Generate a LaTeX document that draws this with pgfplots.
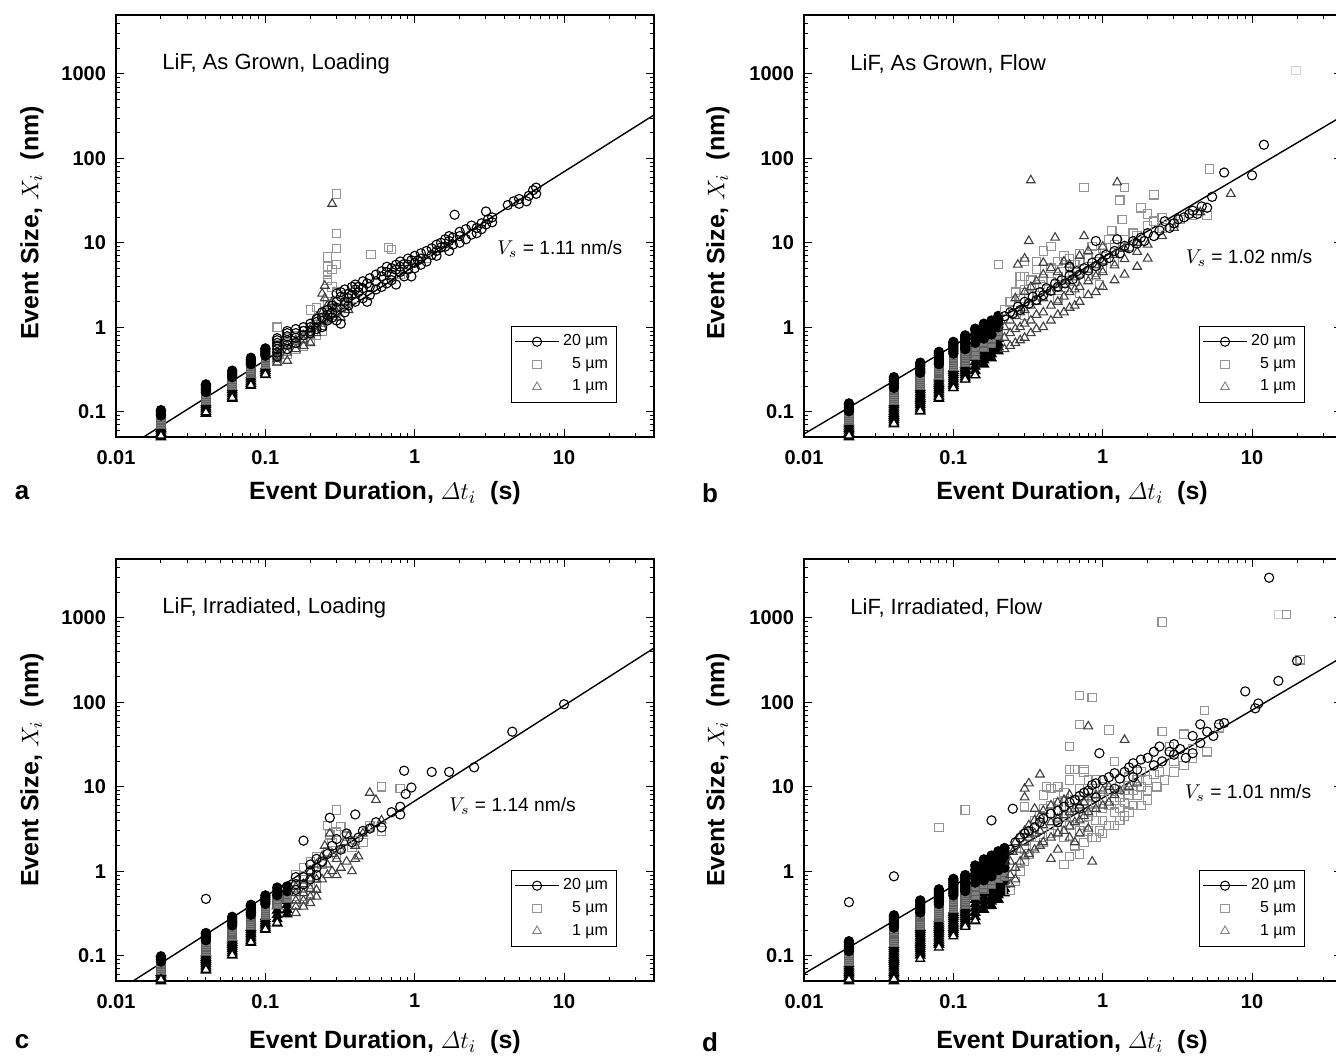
\documentclass[border=0pt]{standalone}
\usepackage{amsmath}
\usepackage[no-math]{fontspec}
\setmainfont{Liberation Sans}
\usepackage{pgfplots}
\pgfplotsset{compat=1.18}
\definecolor{sqgray}{gray}{0.58}
\definecolor{sqfill}{gray}{0.5}
\definecolor{sqdraw}{gray}{0.38}
\definecolor{trigray}{gray}{0.25}
\definecolor{faint}{gray}{0.82}
\pgfplotsset{
 myCirc/.style={only marks, mark=o, black, mark size=2.3pt, line width=0.55pt},
 mySq/.style={only marks, mark=square, sqgray, mark size=2.1pt, line width=0.55pt},
 myTri/.style={only marks, mark=triangle, trigray, mark size=2.5pt, line width=0.55pt},
 colCirc/.style={only marks, mark=*, black, mark size=2.3pt, line width=0.6pt, mark options={draw=black, fill=black}},
 colSq/.style={only marks, mark=square*, sqdraw, mark size=2.1pt, line width=0.6pt, mark options={draw=sqdraw, fill=sqfill}},
 colTri/.style={only marks, mark=triangle*, black, mark size=2.6pt, line width=0.7pt, mark options={draw=black, fill=black}},
 whTri/.style={only marks, mark=triangle*, black, mark size=2.5pt, line width=0.6pt, mark options={draw=black, fill=white}},
 myFit/.style={black, line width=0.7pt, no marks},
 legend image code/.code={\draw[mark repeat=2,mark phase=2,#1] plot coordinates {(0cm,0cm) (0.38cm,0cm) (0.76cm,0cm)};},
 every axis/.append style={
  scale only axis, width=269pt, height=211pt,
  xmode=log, ymode=log, xmin=0.01, xmax=40, ymin=0.05, ymax=5000,
  xtick={0.01,0.1,1,10}, xticklabels={0.01,0.1,1,10},
  ytick={0.1,1,10,100,1000}, yticklabels={0.1,1,10,100,1000},
  minor xtick={0.02,0.03,0.04,0.05,0.06,0.07,0.08,0.09,0.2,0.3,0.4,0.5,0.6,0.7,0.8,0.9,2,3,4,5,6,7,8,9,20,30,40},
  minor ytick={0.06,0.07,0.08,0.09,0.2,0.3,0.4,0.5,0.6,0.7,0.8,0.9,2,3,4,5,6,7,8,9,20,30,40,50,60,70,80,90,200,300,400,500,600,700,800,900,2000,3000,4000,5000},
  tick align=inside, major tick length=4pt, minor tick length=2pt,
  tick style={black, line width=0.5pt},
  axis line style={line width=0.7pt},
  ticklabel style={font=\bfseries\fontsize{10}{12}\selectfont},
  xticklabel style={yshift=-3pt}, yticklabel style={xshift=-1.5pt},
  legend style={at={(0.93,0.082)}, anchor=south east, draw=black, font=\fontsize{8}{9}\selectfont, inner xsep=2pt, inner ysep=2pt, row sep=0.3pt},
  legend cell align=right,
 }
}
\newcommand{\legendentries}{%
 \addlegendimage{black, mark=o, mark size=2.3pt, line width=0.5pt}
 \addlegendentry{20 µm}
 \addlegendimage{only marks, mark=square, sqgray, mark size=2.1pt, line width=0.45pt}
 \addlegendentry{5 µm}
 \addlegendimage{only marks, mark=triangle, gray, mark size=2.5pt, line width=0.45pt}
 \addlegendentry{1 µm}}
\newcommand{\titlefont}{\fontsize{11}{13}\selectfont}
\newcommand{\vsfont}{\fontsize{9.6}{11}\selectfont}
\newcommand{\labfont}{\bfseries\fontsize{12.5}{14}\selectfont}
\begin{document}
\begin{tikzpicture}[x=1pt,y=1pt]
\useasboundingbox (0,0) rectangle (668,530);
% ================= panel a =================
\begin{axis}[at={(58pt,311.5pt)}, anchor=south west]
\addplot[colTri, forget plot] coordinates {
(0.02,0.050)(0.02,0.053)(0.02,0.056)(0.02,0.060)(0.02,0.063)(0.02,0.067)
(0.04,0.095)(0.04,0.101)(0.04,0.107)(0.04,0.113)(0.04,0.120)(0.04,0.127)
(0.06,0.143)(0.06,0.152)(0.06,0.161)(0.06,0.170)(0.06,0.181)(0.06,0.191)
(0.08,0.203)(0.08,0.215)(0.08,0.228)(0.08,0.242)(0.08,0.256)(0.08,0.272)
(0.1,0.272)(0.1,0.288)(0.1,0.305)(0.1,0.324)(0.1,0.343)
};
\addplot[colSq, forget plot] coordinates {
(0.02,0.071)(0.02,0.075)(0.02,0.080)(0.02,0.085)
(0.04,0.135)(0.04,0.143)(0.04,0.152)(0.04,0.161)
(0.06,0.203)(0.06,0.215)(0.06,0.228)(0.06,0.242)
(0.08,0.288)(0.08,0.305)(0.08,0.324)(0.08,0.343)
(0.1,0.364)(0.1,0.386)(0.1,0.409)(0.1,0.434)
};
\addplot[colCirc, forget plot] coordinates {
(0.02,0.090)(0.02,0.095)(0.02,0.101)(0.02,0.104)
(0.04,0.170)(0.04,0.181)(0.04,0.191)(0.04,0.203)(0.04,0.21)
(0.06,0.256)(0.06,0.272)(0.06,0.288)(0.06,0.305)
(0.08,0.364)(0.08,0.386)(0.08,0.409)(0.08,0.434)
(0.1,0.460)(0.1,0.487)(0.1,0.517)(0.1,0.548)(0.1,0.56)
};
\addplot[whTri, forget plot] coordinates {(0.02,0.052)(0.04,0.098)(0.06,0.146)(0.08,0.206)(0.1,0.276)};
\addplot[mySq, forget plot] coordinates {
(0.12,0.4)(0.12,0.45)(0.12,0.5)(0.12,0.55)(0.12,0.62)(0.12,1.0)
(0.14,0.48)(0.14,0.55)(0.14,0.65)(0.14,0.75)
(0.16,0.55)(0.16,0.65)(0.16,0.8)
(0.18,0.6)(0.18,0.75)(0.18,0.9)
(0.2,0.7)(0.2,0.85)(0.2,1.6)
(0.22,0.8)(0.22,1.0)(0.22,1.7)
(0.24,0.9)(0.24,1.2)
(0.26,6.8)(0.26,5.2)(0.26,4.2)(0.26,3.6)(0.26,2.0)
(0.28,1.4)(0.28,4.8)(0.28,3.0)
(0.3,38)(0.3,12.8)(0.3,8.5)(0.3,5.5)(0.3,2.6)
(0.35,1.8)(0.35,2.4)(0.4,2.2)(0.4,3.0)(0.51,7.3)(0.67,8.8)(0.7,8.3)(0.8,4.2)(1.2,6.5)
};
\addplot[myTri, forget plot] coordinates {
(0.12,0.38)(0.12,0.42)(0.12,0.45)(0.12,0.5)
(0.14,0.4)(0.14,0.5)(0.14,0.6)
(0.16,0.55)(0.16,0.62)(0.16,0.7)
(0.18,0.6)(0.18,0.7)(0.18,0.8)
(0.2,0.65)(0.2,0.8)(0.2,0.95)
(0.22,1.3)(0.22,0.85)(0.22,1.0)
(0.24,1.0)(0.24,1.5)(0.24,2.5)
(0.25,3.1)(0.25,2.2)(0.26,1.8)(0.26,1.2)
(0.28,29)(0.28,1.4)(0.28,2.0)
(0.3,1.5)(0.3,1.7)(0.34,2.0)(0.4,2.4)(0.32,1.3)(0.36,1.6)
};
\addplot[myCirc, forget plot] coordinates {
(0.12,0.45)(0.12,0.5)(0.12,0.55)(0.12,0.6)(0.12,0.65)(0.12,0.7)(0.12,0.74)
(0.14,0.55)(0.14,0.62)(0.14,0.7)(0.14,0.78)(0.14,0.85)(0.14,0.9)
(0.16,0.65)(0.16,0.75)(0.16,0.85)(0.16,0.95)
(0.18,0.8)(0.18,0.9)(0.18,1.0)
(0.2,0.9)(0.2,1.0)(0.2,1.1)(0.2,0.85)
(0.22,0.95)(0.22,1.15)(0.22,1.25)
(0.24,1.0)(0.24,1.3)(0.24,1.5)
(0.26,1.2)(0.26,1.6)(0.26,1.4)
(0.28,1.5)(0.28,1.8)(0.28,1.3)
(0.3,1.2)(0.3,1.7)(0.3,2.5)(0.3,2.0)
(0.32,1.1)(0.32,2.3)(0.32,2.6)
(0.34,1.5)(0.34,2.0)(0.34,2.8)
(0.36,1.8)(0.36,2.5)(0.36,2.2)
(0.38,2.4)(0.38,3.0)
(0.4,2.0)(0.4,2.8)(0.4,3.2)
(0.42,2.6)(0.42,3.0)
(0.45,2.2)(0.45,3.5)(0.45,2.9)
(0.48,2.0)(0.48,3.3)
(0.5,2.4)(0.5,3.8)(0.5,3.0)
(0.55,2.8)(0.55,3.5)(0.55,4.2)
(0.6,3.0)(0.6,4.0)(0.6,4.6)
(0.65,3.3)(0.65,4.5)(0.65,5.2)
(0.7,3.6)(0.7,5.0)(0.7,4.2)
(0.75,3.2)(0.75,5.5)(0.75,4.8)
(0.8,4.5)(0.8,6.0)(0.8,5.2)
(0.85,4.0)(0.85,5.6)
(0.9,5.5)(0.9,6.5)(0.9,4.8)
(0.95,4.0)(0.95,6.2)
(1.0,5.0)(1.0,7.0)(1.0,5.8)
(1.05,6.2)
(1.1,6.5)(1.1,7.5)(1.1,5.5)
(1.2,6.0)(1.2,8.0)
(1.3,7.2)(1.3,8.6)
(1.4,8.0)(1.4,9.5)(1.4,7.0)
(1.5,8.8)(1.5,10.0)
(1.6,9.0)(1.6,11.0)
(1.7,8.0)(1.7,10.5)(1.7,12.0)
(1.8,11.5)(1.8,9.5)(1.85,21.5)
(2.0,12.0)(2.0,10.0)(2.0,13.5)
(2.2,11.0)(2.2,14.5)
(2.4,12.5)(2.4,16.0)
(2.6,15.0)(2.6,13.0)
(2.8,17.0)(2.8,14.5)
(3.0,23.5)(3.0,16.5)(3.1,19.0)
(3.3,17.5)(3.3,20.0)
(4.2,28.0)(4.6,31.0)(5.0,33.0)(5.0,29.0)(5.6,31.0)(5.8,36.0)(6.2,42.0)(6.5,45.0)(6.5,38.0)
};
\addplot[myFit, forget plot] coordinates {(0.0153,0.05) (40,327)};
\legendentries
\node[anchor=west, inner sep=0pt, font=\titlefont] at (rel axis cs:0.0855,0.884) {LiF, As Grown, Loading};
\node[anchor=west, inner sep=0pt, font=\vsfont] at (rel axis cs:0.708,0.445) {$V_s$ = 1.11 nm/s};
\end{axis}
% ================= panel b =================
\begin{axis}[at={(402pt,311.5pt)}, anchor=south west]
\addplot[only marks, mark=square, faint, mark size=2.1pt, line width=0.45pt, forget plot] coordinates {(19.7,1100)};
\addplot[colTri, forget plot] coordinates {
(0.02,0.050)(0.02,0.053)(0.02,0.056)(0.02,0.060)(0.02,0.063)(0.02,0.067)(0.02,0.071)(0.02,0.075)
(0.04,0.071)(0.04,0.075)(0.04,0.080)(0.04,0.085)(0.04,0.090)(0.04,0.095)(0.04,0.101)(0.04,0.107)(0.04,0.113)(0.04,0.120)(0.04,0.127)
(0.06,0.101)(0.06,0.107)(0.06,0.113)(0.06,0.120)(0.06,0.127)(0.06,0.135)(0.06,0.143)(0.06,0.152)(0.06,0.161)(0.06,0.170)(0.06,0.181)(0.06,0.191)
(0.08,0.143)(0.08,0.152)(0.08,0.161)(0.08,0.170)(0.08,0.181)(0.08,0.191)(0.08,0.203)(0.08,0.215)(0.08,0.228)(0.08,0.242)(0.08,0.256)
(0.1,0.191)(0.1,0.203)(0.1,0.215)(0.1,0.228)(0.1,0.242)(0.1,0.256)(0.1,0.272)(0.1,0.288)(0.1,0.305)(0.1,0.324)
(0.12,0.242)(0.12,0.256)(0.12,0.272)(0.12,0.288)(0.12,0.305)(0.12,0.324)(0.12,0.343)(0.12,0.364)
(0.14,0.272)(0.14,0.305)(0.14,0.343)(0.14,0.386)(0.14,0.434)
(0.16,0.364)(0.16,0.409)(0.16,0.46)(0.16,0.517)
(0.18,0.43)(0.18,0.48)(0.18,0.54)(0.18,0.6)
(0.2,0.52)(0.2,0.58)(0.2,0.65)(0.2,0.73)
};
\addplot[colSq, forget plot] coordinates {
(0.02,0.080)(0.02,0.085)(0.02,0.090)(0.02,0.095)
(0.04,0.135)(0.04,0.143)(0.04,0.152)(0.04,0.161)(0.04,0.170)(0.04,0.181)
(0.06,0.203)(0.06,0.215)(0.06,0.228)(0.06,0.242)(0.06,0.256)(0.06,0.272)
(0.08,0.272)(0.08,0.288)(0.08,0.305)(0.08,0.324)(0.08,0.343)
(0.1,0.343)(0.1,0.364)(0.1,0.386)(0.1,0.409)(0.1,0.434)(0.1,0.460)
(0.12,0.386)(0.12,0.409)(0.12,0.434)(0.12,0.460)(0.12,0.487)(0.12,0.517)
(0.14,0.46)(0.14,0.517)(0.14,0.581)
(0.16,0.581)(0.16,0.652)
(0.18,0.65)(0.18,0.73)
(0.2,0.8)(0.2,0.9)
};
\addplot[colCirc, forget plot] coordinates {
(0.02,0.101)(0.02,0.107)(0.02,0.113)(0.02,0.120)(0.02,0.125)
(0.04,0.191)(0.04,0.203)(0.04,0.215)(0.04,0.228)(0.04,0.242)(0.04,0.256)
(0.06,0.288)(0.06,0.305)(0.06,0.324)(0.06,0.343)(0.06,0.364)(0.06,0.38)
(0.08,0.364)(0.08,0.386)(0.08,0.409)(0.08,0.434)(0.08,0.460)(0.08,0.487)(0.08,0.51)
(0.1,0.487)(0.1,0.517)(0.1,0.548)(0.1,0.581)(0.1,0.615)(0.1,0.652)(0.1,0.67)
(0.12,0.548)(0.12,0.581)(0.12,0.615)(0.12,0.652)(0.12,0.692)(0.12,0.733)(0.12,0.777)(0.12,0.8)
(0.14,0.652)(0.14,0.733)(0.14,0.824)(0.14,0.926)(0.14,0.96)
(0.16,0.733)(0.16,0.824)(0.16,0.926)(0.16,1.04)(0.16,1.1)
(0.18,0.82)(0.18,0.92)(0.18,1.04)(0.18,1.17)(0.18,1.2)
(0.2,1.0)(0.2,1.12)(0.2,1.25)(0.2,1.36)
};
\addplot[whTri, forget plot] coordinates {(0.02,0.052)(0.04,0.072)(0.06,0.102)(0.08,0.145)(0.1,0.19)(0.12,0.24)(0.14,0.27)};
\addplot[mySq, forget plot] coordinates {
(0.2,5.5)(0.22,1.6)(0.24,2.0)(0.26,2.6)(0.28,2.2)(0.28,3.2)(0.3,2.8)(0.3,4.0)(0.32,2.4)(0.33,3.6)
(0.35,3.0)(0.36,4.8)(0.38,3.2)(0.4,3.8)(0.4,8.0)(0.42,2.8)(0.45,3.5)(0.45,5.0)(0.5,4.0)(0.5,6.0)
(0.55,4.5)(0.55,3.0)(0.6,5.0)(0.6,6.5)(0.65,5.5)(0.65,3.5)(0.7,6.0)(0.7,7.5)(0.75,45)(0.8,6.5)
(0.8,4.0)(0.85,9)(0.9,7.5)(0.9,4.5)(1.0,8.5)(1.0,5.0)(1.1,11)(1.15,14)(1.2,9.5)(1.2,6.0)
(1.3,32)(1.35,19)(1.4,45)(1.4,11)(1.5,9)(1.6,13)(1.7,12)(1.8,26)(2.0,22)(2.0,16)
(2.2,37)(2.2,18)(2.5,15)(2.5,20)(3.0,17)(3.3,19)(4.0,21)(5.0,21)(5.2,75)(0.95,3.2)
(0.5,2.2)(0.7,2.5)(0.3,1.4)(0.28,4.0)(0.3,6.0)(0.45,9.0)(0.36,6.0)(0.55,7.0)
};
\addplot[myTri, forget plot] coordinates {
(0.22,0.55)(0.22,0.75)(0.22,1.0)(0.24,0.6)(0.24,0.85)(0.24,1.2)(0.26,0.65)(0.26,0.95)(0.26,1.35)(0.26,2.2)
(0.28,0.7)(0.28,1.0)(0.28,1.5)(0.3,0.75)(0.3,1.1)(0.3,1.6)(0.3,2.6)(0.33,0.85)(0.33,1.2)(0.33,1.8)
(0.33,3.0)(0.36,0.95)(0.36,1.4)(0.36,2.0)(0.36,3.5)(0.4,1.0)(0.4,1.5)(0.4,2.2)(0.4,4.2)(0.45,1.2)
(0.45,1.8)(0.45,2.6)(0.45,5.0)(0.5,1.4)(0.5,2.0)(0.5,2.9)(0.5,4.5)(0.55,1.5)(0.55,2.3)(0.55,3.2)
(0.55,6.0)(0.6,1.7)(0.6,2.6)(0.6,3.5)(0.6,5.5)(0.65,1.8)(0.65,2.8)(0.65,3.9)(0.7,2.0)(0.7,3.0)
(0.7,4.2)(0.7,7.0)(0.8,2.4)(0.8,3.5)(0.8,4.8)(0.8,8.0)(0.9,2.6)(0.9,4.0)(0.9,5.4)(1.0,3.0)
(1.0,4.5)(1.0,6.0)(1.0,9.0)(1.2,3.6)(1.2,5.4)(1.2,7.2)(1.4,4.2)(1.4,6.4)(1.4,8.5)(1.7,5.2)
(1.7,7.8)(1.7,10)(2.0,6.5)(2.0,9.5)(2.5,12)(3.0,15)(4.5,23)
(0.27,5.5)(0.32,10.5)(0.33,55)(0.48,11.5)(0.75,12)(1.25,52)(7.2,38)(0.4,5.8)(0.3,6.5)
};
\addplot[myCirc, forget plot] coordinates {
(0.22,1.35)(0.24,1.5)(0.25,1.45)(0.27,1.75)(0.28,1.6)(0.3,2.0)(0.32,1.9)(0.34,2.3)(0.36,2.1)(0.38,2.6)
(0.4,2.4)(0.42,2.9)(0.45,2.7)(0.48,3.3)(0.5,3.0)(0.53,3.6)(0.56,3.3)(0.6,4.1)(0.63,3.7)(0.67,4.6)
(0.7,4.2)(0.75,5.0)(0.8,4.7)(0.85,5.8)(0.9,5.3)(0.95,6.5)(1.0,6.0)(1.05,7.2)(1.1,6.6)(1.2,8.0)
(1.3,7.5)(1.4,9.2)(1.5,8.6)(1.6,10.5)(1.7,9.8)(1.8,11.5)(1.9,10.5)(2.0,13)(2.2,12)(2.4,14)
(2.6,18)(2.8,15)(3.0,17)(3.2,19)(3.5,20)(3.8,22)(4.0,24)(4.3,22)(4.6,27)(5.0,26)
(5.4,35)(6.5,68)(10,63)(12,145)(0.9,10.5)(1.25,11)(0.6,5.2)
};
\addplot[myFit, forget plot] coordinates {(0.01,0.0543) (40,315)};
\legendentries
\node[anchor=west, inner sep=0pt, font=\titlefont] at (rel axis cs:0.0855,0.884) {LiF, As Grown, Flow};
\node[anchor=west, inner sep=0pt, font=\vsfont] at (rel axis cs:0.709,0.424) {$V_s$ = 1.02 nm/s};
\end{axis}
% ================= panel c =================
\begin{axis}[at={(58pt,39.5pt)}, anchor=south west]
\addplot[colTri, forget plot] coordinates {
(0.02,0.050)(0.02,0.053)(0.02,0.056)(0.02,0.060)(0.02,0.063)
(0.04,0.067)(0.04,0.071)(0.04,0.075)(0.04,0.080)(0.04,0.085)(0.04,0.090)(0.04,0.095)(0.04,0.101)(0.04,0.107)
(0.06,0.101)(0.06,0.107)(0.06,0.113)(0.06,0.120)(0.06,0.127)(0.06,0.135)(0.06,0.143)(0.06,0.152)(0.06,0.161)
(0.08,0.143)(0.08,0.152)(0.08,0.161)(0.08,0.170)(0.08,0.181)(0.08,0.191)(0.08,0.203)(0.08,0.215)
(0.1,0.203)(0.1,0.215)(0.1,0.228)(0.1,0.242)(0.1,0.256)(0.1,0.272)(0.1,0.288)
(0.12,0.242)(0.12,0.272)(0.12,0.305)(0.12,0.343)(0.12,0.386)
(0.14,0.31)(0.14,0.35)(0.14,0.4)(0.14,0.45)
};
\addplot[colSq, forget plot] coordinates {
(0.02,0.067)(0.02,0.071)(0.02,0.075)(0.02,0.080)
(0.04,0.113)(0.04,0.120)(0.04,0.127)(0.04,0.135)(0.04,0.143)
(0.06,0.170)(0.06,0.181)(0.06,0.191)(0.06,0.203)(0.06,0.215)
(0.08,0.228)(0.08,0.242)(0.08,0.256)(0.08,0.272)(0.08,0.288)
(0.1,0.305)(0.1,0.324)(0.1,0.343)(0.1,0.364)(0.1,0.386)
(0.12,0.409)(0.12,0.46)(0.12,0.5)
(0.14,0.48)(0.14,0.53)
};
\addplot[colCirc, forget plot] coordinates {
(0.02,0.085)(0.02,0.090)(0.02,0.095)(0.02,0.098)
(0.04,0.152)(0.04,0.161)(0.04,0.170)(0.04,0.181)(0.04,0.185)
(0.06,0.228)(0.06,0.242)(0.06,0.256)(0.06,0.272)(0.06,0.288)
(0.08,0.305)(0.08,0.324)(0.08,0.343)(0.08,0.364)(0.08,0.386)(0.08,0.40)
(0.1,0.409)(0.1,0.434)(0.1,0.460)(0.1,0.487)(0.1,0.517)
(0.12,0.52)(0.12,0.58)(0.12,0.64)
(0.14,0.58)(0.14,0.66)
};
\addplot[whTri, forget plot] coordinates {(0.02,0.052)(0.04,0.068)(0.06,0.102)(0.08,0.145)(0.1,0.205)(0.12,0.245)};
\addplot[mySq, forget plot] coordinates {
(0.16,0.4)(0.16,0.5)(0.16,0.65)(0.16,0.9)
(0.18,0.5)(0.18,0.65)(0.18,0.8)(0.18,1.1)
(0.2,0.55)(0.2,0.7)(0.2,1.0)(0.2,1.3)
(0.22,0.65)(0.22,0.9)(0.22,1.5)
(0.24,1.2)(0.26,3.5)(0.27,2.7)(0.28,2.2)(0.3,5.3)(0.3,1.6)(0.32,3.4)(0.35,2.6)(0.38,1.9)(0.4,2.3)
(0.6,10)(0.6,3.0)(0.8,9.5)(0.5,3.5)(0.45,2.2)(0.26,1.7)(0.3,2.9)
};
\addplot[myTri, forget plot] coordinates {
(0.16,0.32)(0.16,0.38)(0.16,0.45)(0.16,0.55)(0.16,0.65)
(0.18,0.38)(0.18,0.45)(0.18,0.55)(0.18,0.7)
(0.2,0.42)(0.2,0.5)(0.2,0.62)(0.2,0.8)(0.2,1.0)
(0.22,0.5)(0.22,0.6)(0.22,0.8)(0.22,1.2)
(0.24,0.8)(0.25,2.0)(0.26,1.2)(0.27,2.8)(0.28,1.0)(0.3,1.4)(0.32,1.8)(0.35,1.3)(0.36,2.6)(0.38,1.0)
(0.4,2.0)(0.45,2.8)(0.5,8.5)(0.55,7.0)(0.5,3.2)(0.6,4.0)(0.42,1.5)(0.3,0.9)
(0.24,1.5)(0.26,0.9)(0.28,1.6)(0.32,1.1)(0.34,2.2)(0.4,1.4)
};
\addplot[myCirc, forget plot] coordinates {
(0.04,0.47)
(0.16,0.6)(0.16,0.7)(0.16,0.85)
(0.18,0.7)(0.18,0.85)(0.18,2.3)
(0.2,0.8)(0.2,1.0)(0.2,1.2)
(0.22,0.9)(0.22,1.1)(0.22,1.4)
(0.24,1.3)(0.26,1.6)(0.27,4.3)(0.28,2.0)(0.3,2.4)(0.32,1.8)(0.35,2.8)(0.38,2.2)(0.4,4.7)(0.42,2.5)
(0.45,3.0)(0.5,3.2)(0.55,3.8)(0.6,3.3)(0.7,5.0)(0.8,4.7)(0.8,5.8)(0.85,15.5)(0.87,8.2)(0.95,9.8)
(1.3,15)(1.7,15)(2.5,17)(4.5,45)(10,95)
};
\addplot[myFit, forget plot] coordinates {(0.013,0.05) (40,440)};
\legendentries
\node[anchor=west, inner sep=0pt, font=\titlefont] at (rel axis cs:0.0855,0.884) {LiF, Irradiated, Loading};
\node[anchor=west, inner sep=0pt, font=\vsfont] at (rel axis cs:0.619,0.415) {$V_s$ = 1.14 nm/s};
\end{axis}
% ================= panel d =================
\begin{axis}[at={(402pt,39.5pt)}, anchor=south west]
\addplot[only marks, mark=square, faint, mark size=2.1pt, line width=0.45pt, forget plot] coordinates {(15,1100)};
\addplot[colTri, forget plot] coordinates {
(0.02,0.050)(0.02,0.053)(0.02,0.056)(0.02,0.060)(0.02,0.063)(0.02,0.067)(0.02,0.071)(0.02,0.075)(0.02,0.080)
(0.04,0.050)(0.04,0.053)(0.04,0.056)(0.04,0.060)(0.04,0.063)(0.04,0.067)(0.04,0.071)(0.04,0.075)(0.04,0.080)(0.04,0.085)(0.04,0.090)(0.04,0.095)(0.04,0.101)(0.04,0.107)(0.04,0.113)(0.04,0.120)(0.04,0.127)(0.04,0.135)
(0.06,0.101)(0.06,0.107)(0.06,0.113)(0.06,0.120)(0.06,0.127)(0.06,0.135)(0.06,0.143)(0.06,0.152)(0.06,0.161)(0.06,0.170)(0.06,0.181)(0.06,0.191)(0.06,0.203)(0.06,0.215)
(0.08,0.135)(0.08,0.143)(0.08,0.152)(0.08,0.161)(0.08,0.170)(0.08,0.181)(0.08,0.191)(0.08,0.203)(0.08,0.215)(0.08,0.228)(0.08,0.242)(0.08,0.256)(0.08,0.272)
(0.1,0.181)(0.1,0.191)(0.1,0.203)(0.1,0.215)(0.1,0.228)(0.1,0.242)(0.1,0.256)(0.1,0.272)(0.1,0.288)(0.1,0.305)(0.1,0.324)(0.1,0.343)
(0.12,0.228)(0.12,0.242)(0.12,0.256)(0.12,0.272)(0.12,0.288)(0.12,0.305)(0.12,0.324)(0.12,0.343)(0.12,0.364)(0.12,0.386)
(0.14,0.256)(0.14,0.288)(0.14,0.324)(0.14,0.364)(0.14,0.409)(0.14,0.46)
(0.16,0.35)(0.16,0.39)(0.16,0.44)(0.16,0.49)(0.16,0.55)
(0.18,0.39)(0.18,0.44)(0.18,0.49)(0.18,0.55)(0.18,0.62)
(0.2,0.46)(0.2,0.52)(0.2,0.58)(0.2,0.65)(0.2,0.73)
(0.22,0.55)(0.22,0.62)(0.22,0.7)(0.22,0.78)
};
\addplot[colSq, forget plot] coordinates {
(0.02,0.085)(0.02,0.090)(0.02,0.095)(0.02,0.101)(0.02,0.107)
(0.04,0.143)(0.04,0.152)(0.04,0.161)(0.04,0.170)(0.04,0.181)(0.04,0.191)(0.04,0.203)
(0.06,0.228)(0.06,0.242)(0.06,0.256)(0.06,0.272)(0.06,0.288)(0.06,0.305)
(0.08,0.288)(0.08,0.305)(0.08,0.324)(0.08,0.343)(0.08,0.364)(0.08,0.386)
(0.1,0.364)(0.1,0.386)(0.1,0.409)(0.1,0.434)(0.1,0.460)(0.1,0.487)
(0.12,0.409)(0.12,0.434)(0.12,0.460)(0.12,0.487)(0.12,0.517)(0.12,0.548)
(0.14,0.517)(0.14,0.581)(0.14,0.652)
(0.16,0.62)(0.16,0.7)
(0.18,0.7)(0.18,0.78)
(0.2,0.82)(0.2,0.92)
(0.22,0.87)(0.22,0.98)
};
\addplot[colCirc, forget plot] coordinates {
(0.02,0.113)(0.02,0.120)(0.02,0.127)(0.02,0.135)(0.02,0.143)(0.02,0.148)
(0.04,0.215)(0.04,0.228)(0.04,0.242)(0.04,0.256)(0.04,0.272)(0.04,0.288)(0.04,0.30)
(0.06,0.324)(0.06,0.343)(0.06,0.364)(0.06,0.386)(0.06,0.409)(0.06,0.434)(0.06,0.45)
(0.08,0.409)(0.08,0.434)(0.08,0.460)(0.08,0.487)(0.08,0.517)(0.08,0.548)(0.08,0.581)(0.08,0.61)
(0.1,0.517)(0.1,0.548)(0.1,0.581)(0.1,0.615)(0.1,0.652)(0.1,0.692)(0.1,0.733)(0.1,0.777)(0.1,0.81)
(0.12,0.581)(0.12,0.615)(0.12,0.652)(0.12,0.692)(0.12,0.733)(0.12,0.777)(0.12,0.824)(0.12,0.873)(0.12,0.9)
(0.14,0.733)(0.14,0.824)(0.14,0.926)(0.14,1.04)(0.14,1.17)
(0.16,0.78)(0.16,0.87)(0.16,0.98)(0.16,1.1)(0.16,1.24)(0.16,1.38)
(0.18,0.87)(0.18,0.98)(0.18,1.1)(0.18,1.24)(0.18,1.38)(0.18,1.53)
(0.2,1.03)(0.2,1.15)(0.2,1.29)(0.2,1.45)(0.2,1.6)(0.2,1.72)
(0.22,1.1)(0.22,1.24)(0.22,1.38)(0.22,1.55)(0.22,1.72)(0.22,1.88)
};
\addplot[whTri, forget plot] coordinates {(0.02,0.052)(0.04,0.053)(0.06,0.092)(0.08,0.125)(0.1,0.17)(0.12,0.22)(0.14,0.26)};
\addplot[mySq, forget plot] coordinates {
(0.08,3.3)(0.12,5.3)
(0.24,0.6)(0.26,0.75)(0.28,1.0)(0.3,1.3)(0.32,1.6)(0.35,2.0)(0.38,2.5)(0.3,5.8)(0.35,4.0)(0.4,8.0)
(0.42,10)(0.45,6.0)(0.5,10)(0.5,3.0)(0.55,1.2)(0.55,4.5)(0.6,1.5)(0.6,30)(0.6,16)(0.65,7.0)
(0.7,120)(0.7,55)(0.7,1.6)(0.75,15)(0.75,3.5)(0.8,8.5)(0.85,115)(0.85,5.0)(0.9,2.5)(0.9,12)
(1.0,4.0)(1.0,7.0)(1.1,47)(1.1,9.0)(1.2,3.5)(1.2,20)(1.3,5.5)(1.4,4.5)(1.5,8.0)(1.6,6.0)
(1.7,12)(1.8,6.0)(2.0,9.0)(2.2,14)(2.5,900)(2.5,45)(2.8,30)(3.0,20)(3.5,42)(4.0,28)
(4.8,80)(5.0,26)(6.0,50)(0.95,3.0)(1.3,10)(2.4,15)(21,320)(17,1100)
(0.3,1.8)(0.32,2.8)(0.35,3.2)(0.38,4.5)(0.4,2.2)(0.4,5.5)(0.45,2.8)(0.45,9.5)(0.5,4.2)(0.5,6.5)
(0.55,2.5)(0.55,8.5)(0.6,3.5)(0.6,5.5)(0.6,12)(0.65,2.0)(0.65,4.5)(0.65,16)(0.7,3.0)(0.7,5.5)
(0.7,9.5)(0.75,2.2)(0.75,7.0)(0.75,16)(0.8,3.0)(0.8,4.5)(0.8,12)(0.85,2.5)(0.85,7.5)(0.9,4.0)
(0.9,6.5)(1.0,2.8)(1.0,5.5)(1.0,10)(1.1,3.5)(1.1,6.0)(1.2,5.0)(1.2,7.0)(1.3,4.0)(1.3,7.5)
(1.4,6.5)(1.4,9.0)(1.5,5.0)(1.6,9.0)(1.7,8.0)(1.8,10)(2.0,7.0)(2.0,12)(2.3,10)(2.6,12)
(3.0,15)(3.5,18)(4.0,22)(1.5,13)(1.8,15)
};
\addplot[myTri, forget plot] coordinates {
(0.24,0.9)(0.24,1.3)(0.25,1.7)(0.26,1.1)(0.26,2.2)(0.28,1.3)(0.28,1.8)(0.28,2.6)(0.3,1.5)(0.3,2.2)
(0.3,3.0)(0.3,7.5)(0.3,9.5)(0.32,1.6)(0.32,2.5)(0.32,3.5)(0.32,11)(0.35,1.8)(0.35,2.8)(0.35,4.0)
(0.35,5.5)(0.38,2.0)(0.38,3.0)(0.38,4.5)(0.38,14)(0.4,2.2)(0.4,3.5)(0.4,5.2)(0.45,2.5)(0.45,3.8)
(0.45,6.0)(0.5,2.8)(0.5,4.2)(0.5,6.5)(0.55,3.0)(0.55,4.6)(0.55,7.0)(0.6,2.5)(0.6,3.4)(0.6,5.0)
(0.6,8.0)(0.65,3.8)(0.65,5.5)(0.7,2.8)(0.7,4.0)(0.7,6.0)(0.75,4.5)(0.75,6.5)(0.8,3.2)(0.8,5.0)
(0.8,7.5)(0.8,52)(0.9,5.5)(0.9,8.0)(1.0,6.0)(1.0,9.0)(1.1,6.5)(1.1,10)(1.2,8.0)(1.3,9.0)
(1.4,36)(1.5,10)(1.7,11)(0.45,1.4)(0.5,1.8)(0.85,1.3)(0.65,2.2)(0.24,0.7)(0.26,0.8)
};
\addplot[myCirc, forget plot] coordinates {
(0.02,0.43)(0.04,0.87)(0.18,4.0)
(0.24,1.8)(0.26,2.2)(0.28,2.5)(0.3,2.8)(0.32,3.0)(0.35,3.3)(0.38,3.8)(0.4,4.2)(0.45,4.8)(0.5,5.2)
(0.55,5.8)(0.6,6.5)(0.65,7.0)(0.7,7.8)(0.75,8.5)(0.8,9.0)(0.85,10.5)(0.9,11)(0.95,25)(1.0,12)
(1.1,13)(1.2,14.5)(1.3,12.5)(1.4,15)(1.5,17)(1.6,19)(1.7,16)(1.8,21)(2.0,22)(2.2,18)
(2.4,30)(2.5,20)(2.8,26)(3.0,24)(3.3,28)(3.6,22)(4.0,25)(4.5,33)(4.5,55)(5.0,45)
(5.5,40)(6.0,55)(6.5,57)(9.0,135)(10.5,85)(11,97)(15,180)(20,310)(13,3000)(0.25,5.5)
(0.5,3.8)(0.7,5.5)(0.9,7.5)(1.2,9.5)(1.6,13)(2.2,26)(3.0,32)(4.0,40)
};
\addplot[myFit, forget plot] coordinates {(0.01,0.061) (40,343)};
\legendentries
\node[anchor=west, inner sep=0pt, font=\titlefont] at (rel axis cs:0.0855,0.884) {LiF, Irradiated, Flow};
\node[anchor=west, inner sep=0pt, font=\vsfont] at (rel axis cs:0.707,0.445) {$V_s$ = 1.01 nm/s};
\end{axis}
% ================= labels =================
\node[rotate=90, font=\labfont] at (16,418.5) {Event Size, $X_i$\ \ (nm)};
\node[rotate=90, font=\labfont] at (359,418.5) {Event Size, $X_i$\ \ (nm)};
\node[rotate=90, font=\labfont] at (16,145) {Event Size, $X_i$\ \ (nm)};
\node[rotate=90, font=\labfont] at (359,145) {Event Size, $X_i$\ \ (nm)};
\node[font=\labfont] at (192.5,283.5) {Event Duration, $\varDelta t_i$\ \ (s)};
\node[font=\labfont] at (536,283.5) {Event Duration, $\varDelta t_i$\ \ (s)};
\node[font=\labfont] at (192.5,9) {Event Duration, $\varDelta t_i$\ \ (s)};
\node[font=\labfont] at (536,9) {Event Duration, $\varDelta t_i$\ \ (s)};
\node[font=\bfseries\fontsize{13}{14}\selectfont] at (11,283.5) {a};
\node[font=\bfseries\fontsize{13}{14}\selectfont] at (355,283.5) {b};
\node[font=\bfseries\fontsize{13}{14}\selectfont] at (11,9) {c};
\node[font=\bfseries\fontsize{13}{14}\selectfont] at (355,9) {d};
\end{tikzpicture}
\end{document}
